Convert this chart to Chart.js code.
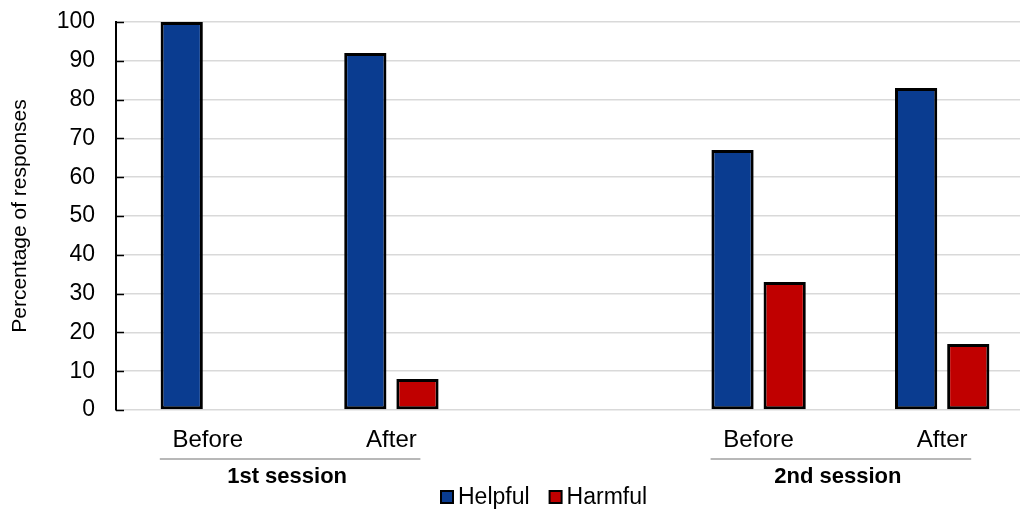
<!DOCTYPE html>
<html>
<head>
<meta charset="utf-8">
<script src="https://cdn.jsdelivr.net/npm/chart.js@4/dist/chart.umd.min.js"></script>
<style>
  html, body { margin: 0; padding: 0; background: #fff; overflow: hidden; }
  #wrap { position: relative; width: 1034px; height: 512px; }
</style>
</head>
<body>
<div id="wrap"><canvas id="myChart"></canvas></div>
<script>
var categories = ["Before", "After", "", "Before", "After"];
var helpful = [100, 92, null, 67, 83];
var harmful = [0, 8, null, 33, 17];
var yTicks = [0, 10, 20, 30, 40, 50, 60, 70, 80, 90, 100];

// session groups under the category labels (index of first / last category)
var sessionNames = ["1st session", "2nd session"];
var sessionFrom = [0, 3];
var sessionTo = [1, 4];

var FONT = "'Liberation Sans', Arial, Helvetica, sans-serif";
var BLUE = "#0a3c90";
var RED = "#c00000";

//---------------------- extra drawing: inner ticks, sessions, legend ----------------------
var extras = {
  id: "extras",
  afterDraw: function (chart) {
    var ctx = chart.ctx;
    var x = chart.scales.x;
    var y = chart.scales.y;
    var area = chart.chartArea;
    ctx.save();

    // small black tick marks on the inside of the y axis
    ctx.strokeStyle = "#000";
    ctx.lineWidth = 1.5;
    yTicks.forEach(function (v) {
      var py = Math.round(y.getPixelForValue(v)) + 0.5;
      ctx.beginPath();
      ctx.moveTo(area.left, py);
      ctx.lineTo(area.left + 8, py);
      ctx.stroke();
    });

    // session underline + bold name
    sessionNames.forEach(function (name, i) {
      var a = x.getPixelForValue(sessionFrom[i]);
      var b = x.getPixelForValue(sessionTo[i]);
      ctx.strokeStyle = "#a0a0a0";
      ctx.lineWidth = 1.5;
      ctx.beginPath();
      ctx.moveTo(a - 48, 459);
      ctx.lineTo(b + 29, 459);
      ctx.stroke();
      ctx.fillStyle = "#000";
      ctx.font = "bold 22px " + FONT;
      ctx.textAlign = "center";
      ctx.textBaseline = "middle";
      ctx.fillText(name, (a - 48 + b + 29) / 2 - 3, 477);
    });

    // legend
    var lx = 441;
    ctx.font = "23px " + FONT;
    ctx.textAlign = "left";
    ctx.textBaseline = "middle";
    chart.data.datasets.forEach(function (ds) {
      ctx.fillStyle = ds.backgroundColor;
      ctx.fillRect(lx, 491, 12, 12);
      ctx.strokeStyle = "#000";
      ctx.lineWidth = 2;
      ctx.strokeRect(lx, 491, 12, 12);
      ctx.fillStyle = "#000";
      ctx.fillText(ds.label, lx + 17, 498);
      lx += 17 + ctx.measureText(ds.label).width + 20;
    });

    ctx.restore();
  }
};

var ctx = document.getElementById("myChart").getContext("2d");
var myChart = new Chart(ctx, {
  type: "bar",
  data: {
    labels: categories,
    datasets: [{
      label: "Helpful",
      data: helpful,
      backgroundColor: BLUE,
      borderColor: "#000",
      borderWidth: 3,
      borderSkipped: false
    }, {
      label: "Harmful",
      data: harmful,
      backgroundColor: RED,
      borderColor: "#000",
      borderWidth: 3,
      borderSkipped: false
    }]
  },
  options: {
    responsive: true,
    maintainAspectRatio: false,
    animation: false,
    categoryPercentage: 0.568,
    barPercentage: 0.81,
    layout: { padding: { top: 22, left: 0, right: 0, bottom: 0 } },
    plugins: {
      legend: { display: false },
      tooltip: { enabled: false }
    },
    scales: {
      x: {
        grid: { display: false },
        border: { display: false },
        ticks: {
          color: "#000",
          font: { family: FONT, size: 24 },
          padding: 8,
          maxRotation: 0,
          autoSkip: false
        },
        afterFit: function (s) { s.height = 102; }
      },
      y: {
        min: 0,
        max: 100,
        afterBuildTicks: function (s) {
          s.ticks = yTicks.map(function (v) { return { value: v }; });
        },
        grid: { color: "#d9d9d9", lineWidth: 1.5, drawTicks: false },
        border: { color: "#000", width: 2 },
        ticks: {
          color: "#000",
          font: { family: FONT, size: 23 },
          padding: 21
        },
        title: {
          display: true,
          text: "Percentage of responses",
          color: "#000",
          font: { family: FONT, size: 21 },
          padding: { top: 8, bottom: 0 }
        },
        afterFit: function (s) {
          s.width = 116;
          s.paddingTop = 0;
          s.paddingBottom = 0;
        }
      }
    }
  },
  plugins: [extras]
});
</script>
</body>
</html>
